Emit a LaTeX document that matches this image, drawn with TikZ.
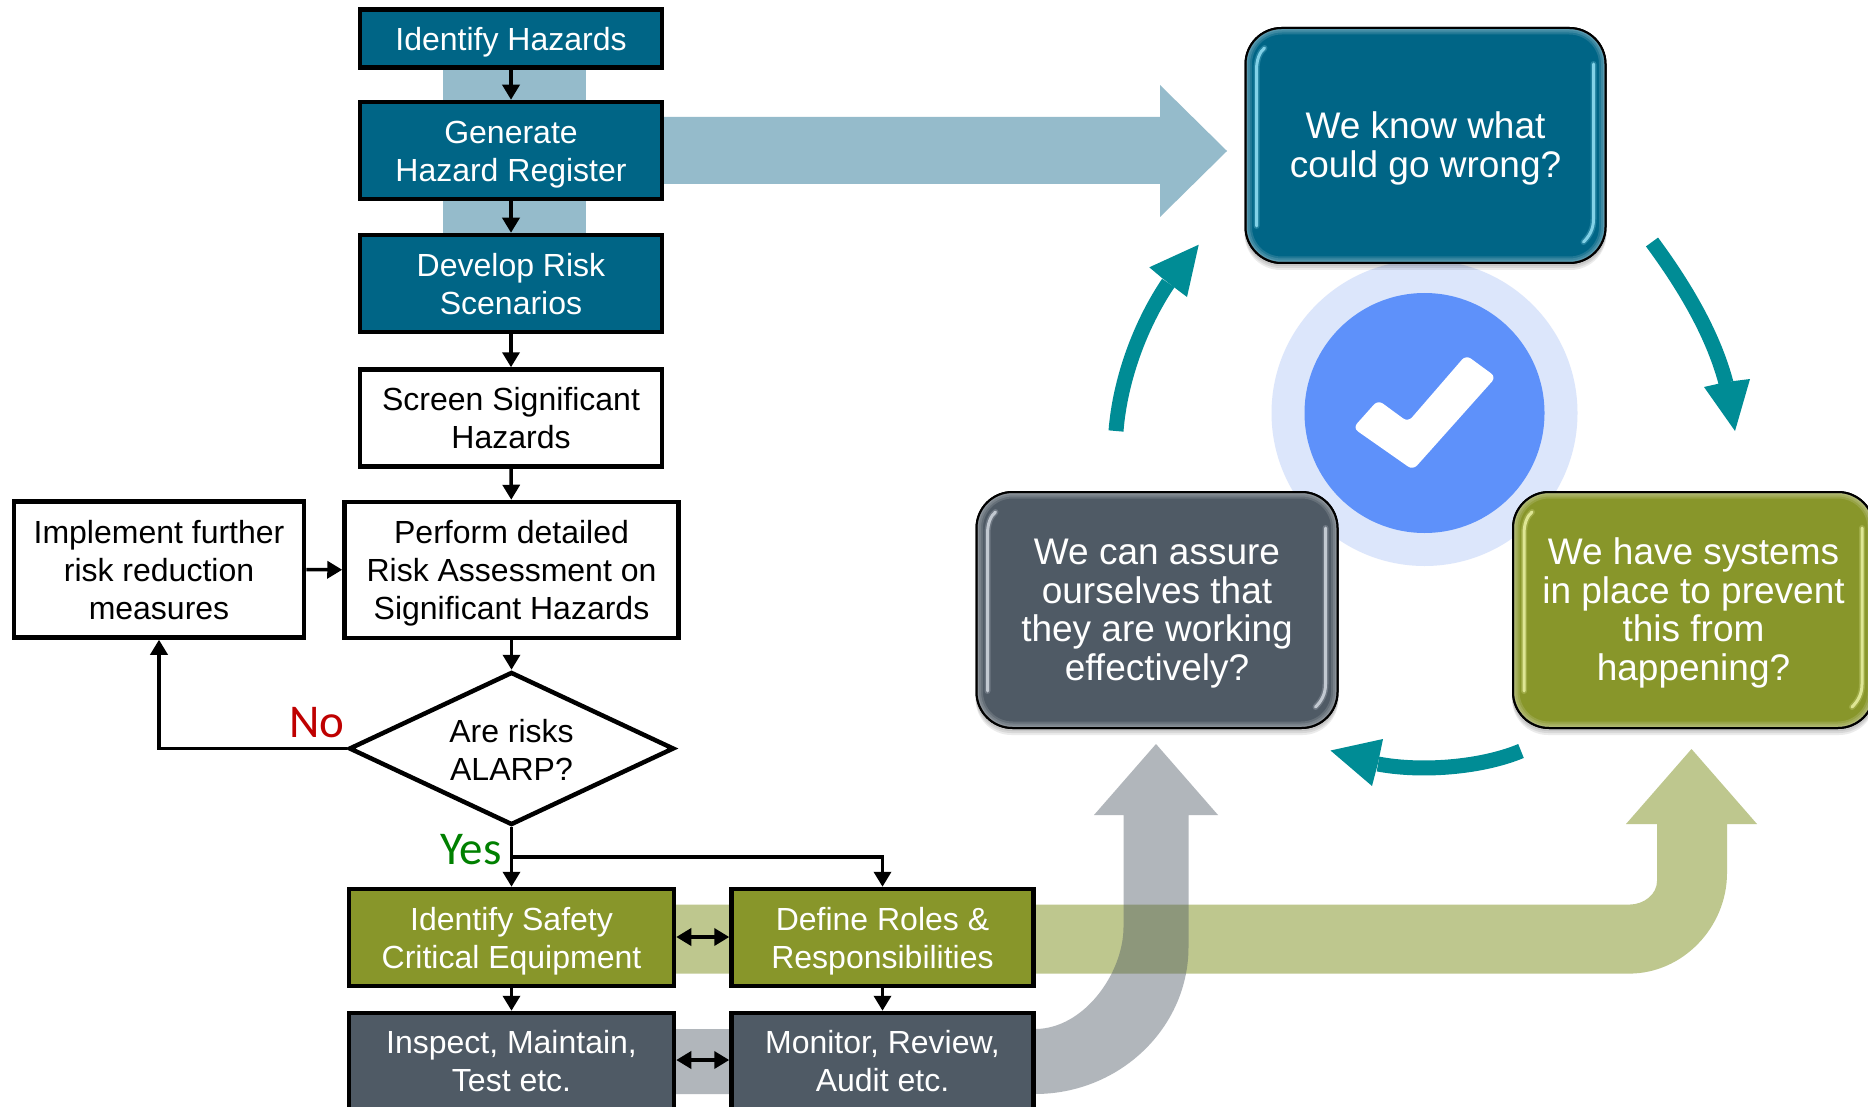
\documentclass[tikz,border=0pt]{standalone}
\usepackage{fontspec}
\setmainfont{Liberation Sans}
\newfontfamily\labelfont{Carlito}
\usetikzlibrary{arrows.meta,shapes.geometric}
\definecolor{cblue}{HTML}{006586}
\definecolor{colive}{HTML}{88962A}
\definecolor{cgray}{HTML}{4F5A65}
\definecolor{cteal}{HTML}{008C95}
\definecolor{bandblue}{HTML}{95BBCB}
\definecolor{bandolive}{HTML}{BEC78E}
\definecolor{hlblue}{HTML}{9BE6FA}
\definecolor{hlgray}{HTML}{D8DEE6}
\definecolor{hlolive}{HTML}{EEF5A8}
\definecolor{discblue}{HTML}{5E91FA}
\definecolor{discpale}{HTML}{DCE6FB}
\tikzset{
  flowbox/.style={draw=black,line width=4.5pt,inner sep=0pt,align=center,text=black,fill=white,
    font=\fontsize{32}{38}\selectfont},
  bluebox/.style={flowbox,fill=cblue,text=white},
  olivebox/.style={flowbox,fill=colive,text=white},
  graybox/.style={flowbox,fill=cgray,text=white},
  link/.style={line width=3.5pt,-{Triangle[length=15pt,width=17pt]}},
  duallink/.style={line width=3.5pt,{Triangle[length=15pt,width=17pt]}-{Triangle[length=15pt,width=17pt]}},
  cyclearrow/.style={line width=15pt,draw=cteal},
  cyclehead/.style={fill=cteal},
}
% lowers a node's text by half of (#1 - first line height)
\newcommand{\dn}[1]{\rule{0pt}{#1pt}}
\newcommand{\glossy}[8]{%
  \pgfmathsetmacro{\xa}{#2-#4/2}\pgfmathsetmacro{\xb}{#2+#4/2}%
  \pgfmathsetmacro{\ya}{#3-#5/2}\pgfmathsetmacro{\yb}{#3+#5/2}%
  \foreach \k in {7,5,3}{\fill[black,opacity=.08,rounded corners=36pt] (\xa-1,\ya+3) rectangle (\xb+1,\yb+\k);}
  \node[draw=black,line width=2pt,fill=#6,text=white,rounded corners=36pt,inner sep=0pt,align=center,
    minimum width=#4,minimum height=#5,font=\fontsize{37}{38.5}\selectfont] (#1) at (#2,#3) {#8};
  \begin{scope}
    \clip[rounded corners=36pt] (\xa,\ya) rectangle (\xb,\yb);
    \foreach \w in {13,9,5}{\draw[white,opacity=.13,line width=\w pt,rounded corners=36pt] (\xa,\ya) rectangle (\xb,\yb);}
  \end{scope}
  \foreach \wd/\op in {6/.22,3/.8}{
    \draw[#7,opacity=\op,line width=\wd pt,line cap=round] (\xa+11,\yb-37) -- (\xa+11,\ya+42) .. controls (\xa+11,\ya+32) and (\xa+14,\ya+24) .. (\xa+19,\ya+20);
    \draw[#7,opacity=\op,line width=\wd pt,line cap=round] (\xb-12,\ya+36) -- (\xb-12,\yb-44) .. controls (\xb-12,\yb-34) and (\xb-16,\yb-27) .. (\xb-22,\yb-21);
  }
  \draw[black,line width=2pt,rounded corners=36pt] (\xa,\ya) rectangle (\xb,\yb);
}
\begin{document}
\begin{tikzpicture}[x=1pt,y=-1pt]
\useasboundingbox (0,0) rectangle (1868,1107);
\clip (0,0) rectangle (1868,1107);
\fill[white] (0,0) rectangle (1868,1107);

% wide background arrows
\fill[bandblue] (443,60) rectangle (586,240);
\fill[bandblue] (600,117) -- (1160,117) -- (1160,85) -- (1227,151) -- (1160,217) -- (1160,184) -- (600,184) -- cycle;
\fill[bandolive] (600,904.6) -- (1629,904.6) .. controls (1644.4,904.6) and (1657,894) .. (1657,881) -- (1657,824) -- (1626,824) -- (1691.5,749) -- (1757,824) -- (1727,824) -- (1727,873) .. controls (1727,927) and (1683,973.6) .. (1629,973.6) -- (600,973.6) -- cycle;
\fill[cgray,opacity=.44] (600,1029) -- (1035,1029) .. controls (1084,1029) and (1123.5,973) .. (1123.5,927) -- (1123.5,815) -- (1094,815) -- (1156,744) -- (1218,815) -- (1188.5,815) -- (1188.5,947) .. controls (1188.5,1028) and (1119.4,1094) .. (1035,1094) -- (600,1094) -- cycle;

% central badge
\fill[discpale] (1424.5,413) circle[radius=153];
\fill[discblue] (1424.5,413) circle[radius=120];
\fill[white,rounded corners=6pt] (1466,355) -- (1496,377) -- (1413,470) -- (1353,428) -- (1378,400) -- (1408,422) -- cycle;

% right-hand glossy boxes
\glossy{know}{1425.5}{145.5}{360}{235}{cblue}{hlblue}{\dn{32.5}We know what\\could go wrong?}
\glossy{assure}{1157}{610}{361}{236}{cgray}{hlgray}{\dn{33}We can assure\\ourselves that\\they are working\\effectively?}
\glossy{systems}{1693.5}{610}{361}{236}{colive}{hlolive}{\dn{33}We have systems\\in place to prevent\\this from\\happening?}

% cycle arrows
\coordinate (c1a) at (1652,242); \coordinate (c1b) at (1726,383);
\draw[cyclearrow] (c1a) .. controls (1680,280) and (1712,330) .. (c1b);
\fill[cyclehead] (1735,431) -- (1704,387) -- (1726,382) -- (1750,379) -- cycle;
\coordinate (c2a) at (1521,751); \coordinate (c2b) at (1378,764);
\draw[cyclearrow] (c2a) .. controls (1480,768) and (1420,772) .. (c2b);
\fill[cyclehead] (1330.5,750.5) -- (1383,739) -- (1378,763) -- (1372,786) -- cycle;
\coordinate (c3a) at (1116,431); \coordinate (c3b) at (1168.3,283);
\draw[cyclearrow] (c3a) .. controls (1120,380) and (1140,325) .. (c3b);
\fill[cyclehead] (1198.7,244.7) -- (1149.3,267.3) -- (1162,278) -- (1174.7,287.7) -- (1187,297) -- cycle;

% flow chart
\node[bluebox,minimum width=302,minimum height=58] (identify) at (511,38.5) {\dn{31}Identify Hazards};
\node[bluebox,minimum width=302,minimum height=97] (register) at (511,150.5) {\dn{31}Generate\\Hazard Register};
\node[bluebox,minimum width=302,minimum height=97] (scenarios) at (511,283.5) {\dn{25}Develop Risk\\Scenarios};
\node[flowbox,minimum width=302,minimum height=97] (screen) at (511,418) {\dn{24}Screen Significant\\Hazards};
\node[flowbox,minimum width=334,minimum height=136] (perform) at (511.5,570) {\dn{29}Perform detailed\\Risk Assessment on\\Significant Hazards};
\node[flowbox,minimum width=290,minimum height=136] (implement) at (159,569.5) {\dn{24}Implement further\\risk reduction\\measures};
\node[flowbox,diamond,aspect=2.12,minimum width=325,minimum height=153] (alarp) at (511.5,748.5) {\dn{25}Are risks\\ALARP?};
\node[olivebox,minimum width=325,minimum height=97] (safety) at (511.5,937.5) {\dn{31}Identify Safety\\Critical Equipment};
\node[olivebox,minimum width=302,minimum height=97] (roles) at (882.5,937.5) {\dn{31}Define Roles \&\\Responsibilities};
\node[graybox,minimum width=325,minimum height=96] (inspect) at (511.5,1061) {Inspect, Maintain,\\Test etc.};
\node[graybox,minimum width=302,minimum height=96] (monitor) at (882.5,1061) {Monitor, Review,\\Audit etc.};
\node[inner sep=0pt,text=red!75!black,font=\labelfont\fontsize{47}{47}\selectfont] (nolabel) at (317,723) {No};
\node[inner sep=0pt,text=green!50!black,font=\labelfont\fontsize{47}{47}\selectfont] (yeslabel) at (471,850) {Yes};

\draw[link] (identify) -- (register);
\draw[link] (register) -- (scenarios);
\draw[link] (scenarios) -- (screen);
\draw[link] (screen) -- (perform);
\draw[link] (perform) -- (alarp);
\draw[link] (implement) -- (perform);
\draw[link] (alarp.west) -| (implement.south);
\draw[link] (alarp.south) -- (safety.north);
\coordinate (split) at (alarp.south |- 0,857);
\draw[link] (split) -| (roles.north);
\draw[link] (safety) -- (inspect);
\draw[link] (roles) -- (monitor);
\draw[duallink] (safety.east |- 0,937) -- (roles.west |- 0,937);
\draw[duallink] (inspect.east |- 0,1060) -- (monitor.west |- 0,1060);
\end{tikzpicture}
\end{document}
